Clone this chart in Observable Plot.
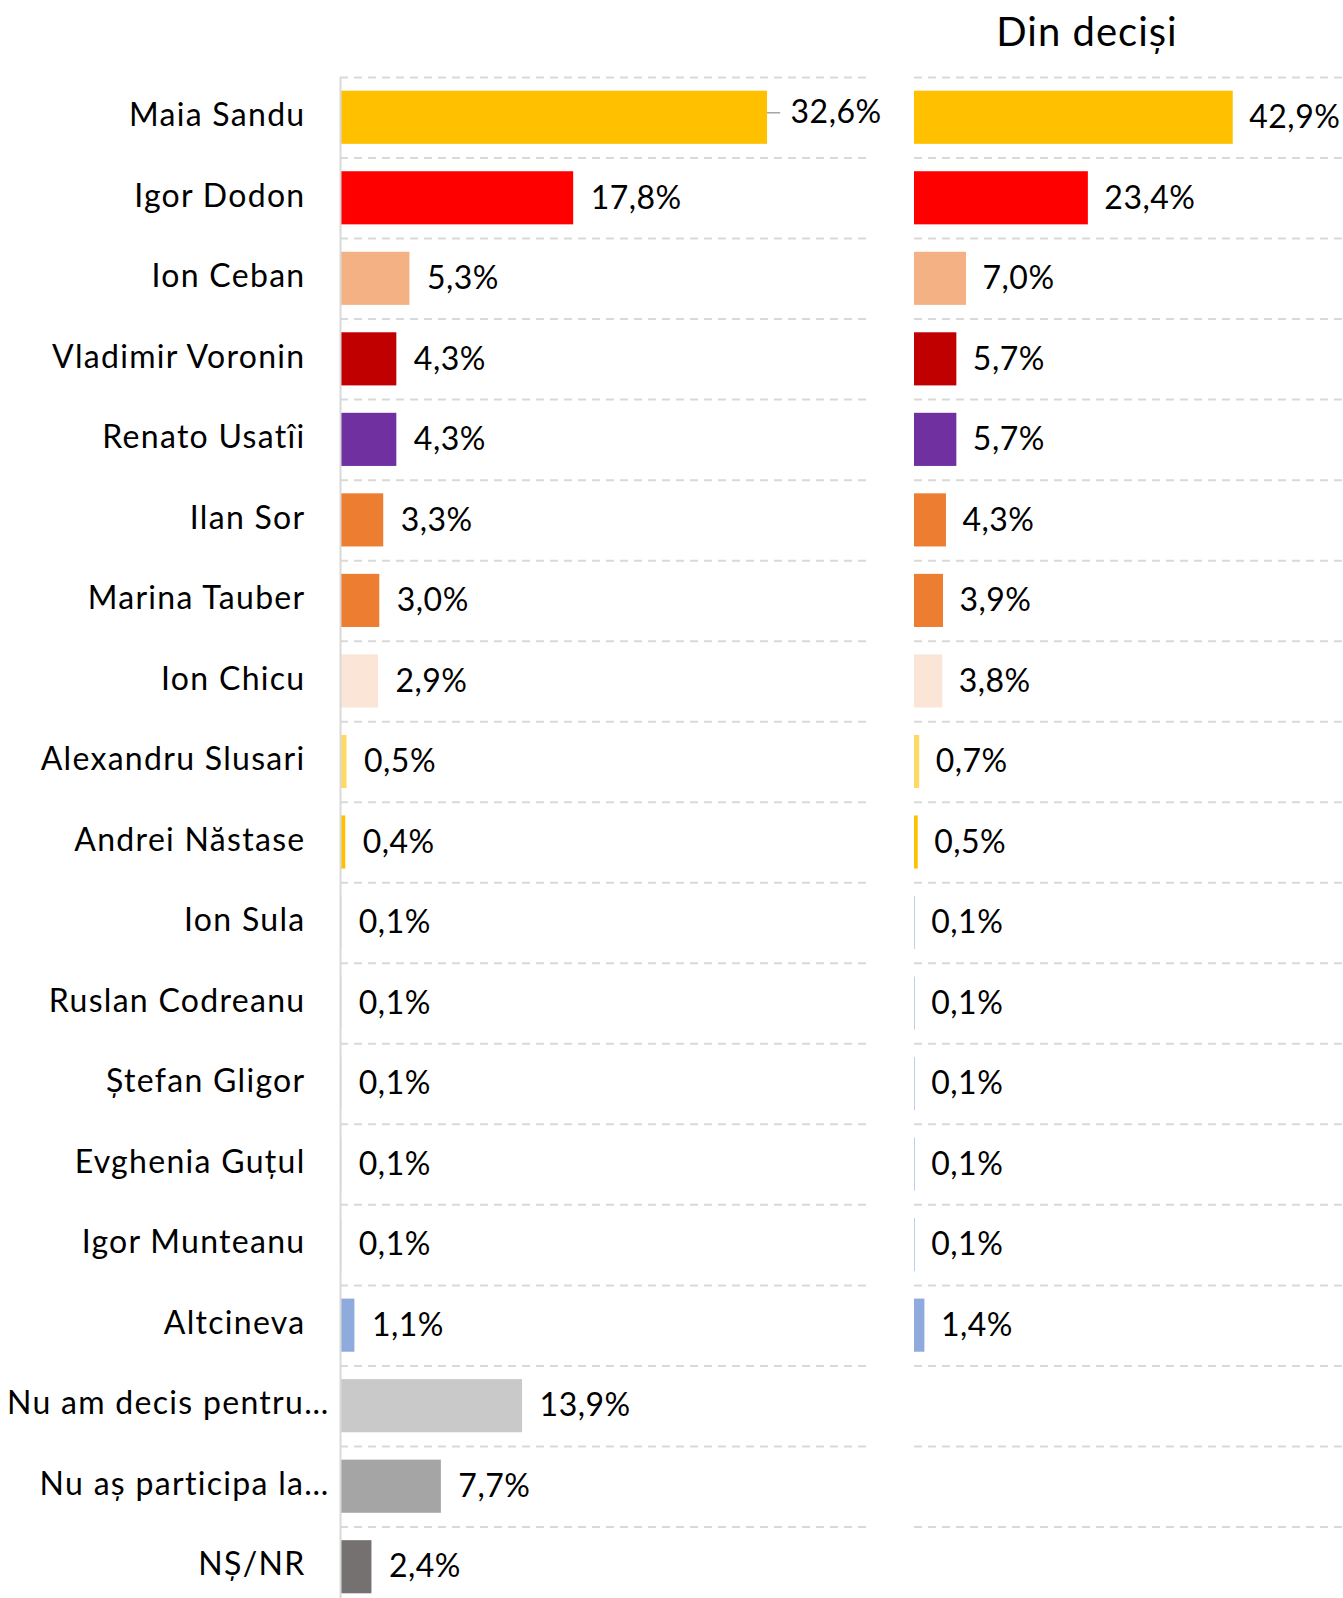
<!DOCTYPE html>
<html><head><meta charset="utf-8">
<script src="https://cdn.jsdelivr.net/npm/d3@7"></script>
<script src="https://cdn.jsdelivr.net/npm/@observablehq/plot@0.6"></script>
<style>
html,body{margin:0;padding:0;background:#fff;overflow:hidden;}
#wrap{position:relative;width:1343px;height:1598px;font-family:Lato,"Open Sans",sans-serif;}
#left{position:absolute;left:0;top:0;}
#right{position:absolute;left:914px;top:0;}
#title{position:absolute;left:967px;width:240px;top:11px;text-align:center;font-size:40px;line-height:40px;letter-spacing:1px;color:#000;}
g[aria-description="cat"] text{letter-spacing:1.3px;}
g[aria-description="val"] text{letter-spacing:0.5px;}
</style></head><body>
<div id="wrap"><div id="left"></div><div id="right"></div><div id="title">Din deciși</div></div>
<script>
// ---- data ----
const categories = ["Maia Sandu","Igor Dodon","Ion Ceban","Vladimir Voronin","Renato Usatîi","Ilan Sor","Marina Tauber","Ion Chicu","Alexandru Slusari","Andrei Năstase","Ion Sula","Ruslan Codreanu","Ștefan Gligor","Evghenia Guțul","Igor Munteanu","Altcineva","Nu am decis pentru…","Nu aș participa la…","NȘ/NR"];
const allRespondents = [32.6,17.8,5.3,4.3,4.3,3.3,3.0,2.9,0.5,0.4,0.1,0.1,0.1,0.1,0.1,1.1,13.9,7.7,2.4];
const decided = [42.9,23.4,7.0,5.7,5.7,4.3,3.9,3.8,0.7,0.5,0.1,0.1,0.1,0.1,0.1,1.4];
const colors = ["#FFC000","#FF0000","#F4B183","#C00000","#7030A0","#ED7D31","#ED7D31","#FBE5D6","#FFD966","#FFC000","#9DC3E6","#9DC3E6","#9DC3E6","#9DC3E6","#9DC3E6","#8FAADC","#C9C9C9","#A5A5A5","#767171"];
const truncatedLabels = ["Nu am decis pentru…","Nu aș participa la…"];
const leaderLabels = ["Maia Sandu"];

// ---- helpers ----
const FONT = "Lato, 'Open Sans', sans-serif";
const fmt = v => v.toFixed(1).replace(".", ",") + "%";
const rowsAll = categories.map((name, i) => ({name, value: allRespondents[i], color: colors[i]}));
const rowsDec = decided.map((v, i) => ({name: categories[i], value: v, color: colors[i]}));

const H = 1607, MT = 77, MB = 0;
const step = (H - MT - MB) / categories.length;
const gridOpts = {y: d => d, dy: -step / 2, stroke: "#d9d9d9", strokeWidth: 2, strokeDasharray: "8,6"};
const barInset = 13.7;
const FS = 32;
const yOpts = {type: "band", domain: categories, padding: 0, round: false, axis: null};

const left = Plot.plot({
  width: 866, height: H, marginLeft: 340, marginRight: 0, marginTop: MT, marginBottom: MB,
  x: {domain: [0, 526 / 13.1], axis: null},
  y: yOpts,
  color: {type: "identity"},
  style: {background: "transparent", fontFamily: FONT, fontSize: FS + "px", color: "#000", overflow: "visible"},
  marks: [
    Plot.ruleY(categories, gridOpts),
    Plot.barX(rowsAll, {x: "value", y: "name", fill: "color", insetTop: barInset, insetBottom: barInset}),
    Plot.ruleX([0], {stroke: "#d9d9d9", strokeWidth: 2}),
    Plot.text(rowsAll.filter(d => !leaderLabels.includes(d.name)), {x: "value", y: "name", text: d => fmt(d.value), textAnchor: "start", dx: 17, fontSize: FS, fill: "#000", ariaDescription: "val"}),
    Plot.ruleY(rowsAll.filter(d => leaderLabels.includes(d.name)), {x1: "value", x2: d => d.value + 1, y: "name", dy: -5, stroke: "#a6a6a6", strokeWidth: 1.5}),
    Plot.text(rowsAll.filter(d => leaderLabels.includes(d.name)), {x: "value", y: "name", text: d => fmt(d.value), textAnchor: "start", dx: 23, dy: -5, fontSize: FS, fill: "#000", ariaDescription: "val"}),
    Plot.text(rowsAll.filter(d => !truncatedLabels.includes(d.name)), {y: "name", text: "name", frameAnchor: "left", textAnchor: "end", dx: -35, dy: -2, fontSize: FS, fill: "#000", ariaDescription: "cat"}),
    Plot.text(rowsAll.filter(d => truncatedLabels.includes(d.name)), {y: "name", text: "name", frameAnchor: "left", textAnchor: "end", dx: -11, dy: -2, fontSize: FS, fill: "#000", ariaDescription: "cat"})
  ]
});
document.getElementById("left").appendChild(left);

const right = Plot.plot({
  width: 429, height: H, marginLeft: 0, marginRight: 0, marginTop: MT, marginBottom: MB,
  x: {domain: [0, 429 / 7.43], axis: null},
  y: yOpts,
  color: {type: "identity"},
  style: {background: "transparent", fontFamily: FONT, fontSize: FS + "px", color: "#000", overflow: "visible"},
  marks: [
    Plot.ruleY(categories, gridOpts),
    Plot.barX(rowsDec, {x: "value", y: "name", fill: "color", insetTop: barInset, insetBottom: barInset}),
    Plot.text(rowsDec, {x: "value", y: "name", text: d => fmt(d.value), textAnchor: "start", dx: 16, fontSize: FS, fill: "#000", ariaDescription: "val"})
  ]
});
document.getElementById("right").appendChild(right);
</script>
</body></html>
